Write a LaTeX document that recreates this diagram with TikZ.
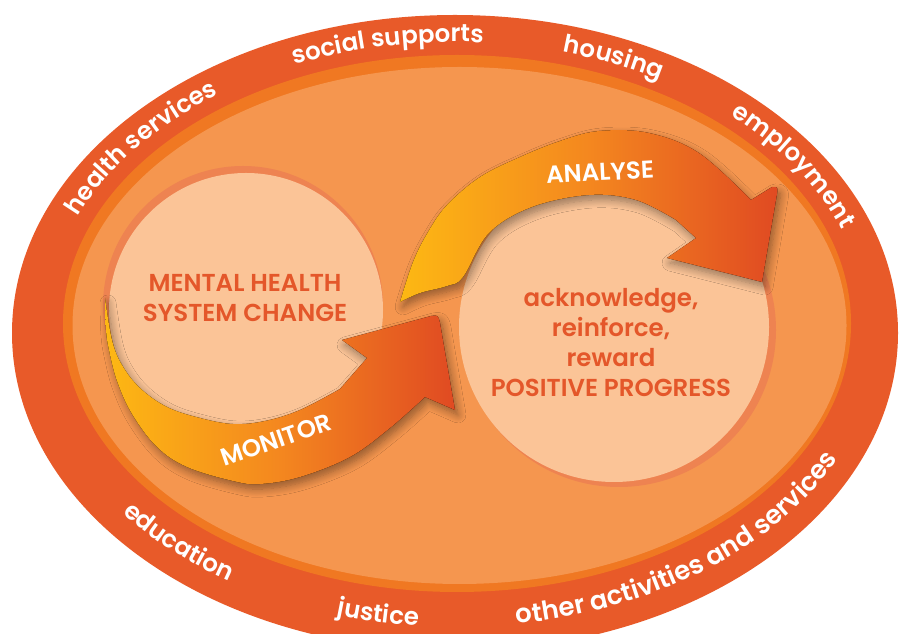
\documentclass[tikz,border=0pt]{standalone}
\usepackage{fontspec}
\IfFontExistsTF{Poppins SemiBold}{\setmainfont{Poppins}[BoldFont={Poppins SemiBold}]}{\setmainfont{Poppins}}
\usetikzlibrary{decorations.text,shadows.blur,calc}
\definecolor{banddark}{HTML}{E85A29}
\definecolor{bandstripe}{HTML}{F07822}
\definecolor{innerlight}{HTML}{F5964F}
\definecolor{peach}{HTML}{FBC497}
\definecolor{rim}{HTML}{EE8351}
\definecolor{circtext}{HTML}{E4572A}
\definecolor{arrowyellow}{HTML}{FDB813}
\definecolor{arrowmid}{HTML}{F4871F}
\definecolor{arrowred}{HTML}{E04A22}
\newcommand\bandfont{\fontsize{24.5}{24.5}\selectfont\bfseries}
\newcommand\bandfontwide{\fontsize{26}{26}\selectfont\bfseries}
\begin{document}
\begin{tikzpicture}[x=1pt,y=1pt,
  circtextstyle/.style={text=circtext, font=\fontsize{24.5}{30}\selectfont\bfseries, align=center},
  arrowtext/.style={text=white, font=\fontsize{24.5}{24.5}\selectfont\bfseries},
  arrowfill/.style={left color=arrowyellow, right color=arrowred, middle color=arrowmid,
    blur shadow={shadow xshift=3pt, shadow yshift=-5pt, shadow blur radius=8pt, shadow blur steps=10, shadow opacity=40}},
  bandtext/.style={decorate, decoration={text along path, text align=center, text color=white, text={|\bandfont|#1}}},
  bandtextwide/.style={decorate, decoration={text along path, text align=center, text color=white, text={|\bandfontwide|#1}}}]
\useasboundingbox (0,0) rectangle (899,634);
\clip (0,0) rectangle (899,634);
\fill[white] (0,0) rectangle (899,634);
% ellipses
\fill[banddark] (455,301) ellipse [x radius=443, y radius=318];
\fill[bandstripe] (457,310.5) ellipse [x radius=394, y radius=268.5];
\fill[innerlight] (459.5,308.5) ellipse [x radius=387, y radius=258.5];
% circles
\fill[rim] (243,328) circle [radius=140];
\fill[peach] (246,324) circle [radius=137];
\fill[rim] (619,304) circle [radius=157];
\fill[peach] (614,307) circle [radius=155];
\node[circtextstyle] (mhsc) at (245,336) {MENTAL HEALTH\\SYSTEM CHANGE};
\node[circtextstyle] (ack) at (611,291.5) {acknowledge,\\reinforce,\\reward\\POSITIVE PROGRESS};
% MONITOR arrow
\fill[arrowfill] plot[smooth, tension=0.6] coordinates {(105,336) (106,304) (109,284) (117,253) (132,220) (157,187) (187,167) (233,153) (260,150) (300,157) (350,177) (390,206) (425,237)}
  -- (455,224) -- (440,311) .. controls (438,319) .. (431,318) -- (342,294) -- (367,276)
  -- plot[smooth, tension=0.6] coordinates {(340,245) (300,224) (265,213) (233,210) (200,216) (167,227) (140,246) (122,269) (112,294) (105,336)} -- cycle;
% ANALYSE arrow
\fill[arrowfill] plot[smooth, tension=0.6] coordinates {(400,332) (413,372) (428,402) (447,429) (480,457) (520,477) (560,493) (599,503) (649,501) (699,481) (751,434)}
  -- (772,447) .. controls (778,447) .. (777,440) -- (762,352) -- (667,376) -- (696,396)
  -- plot[smooth, tension=0.6] coordinates {(676,414) (636,434) (589,439) (532,427) (489,401) (463,357) (447,348) (420,341) (400,332)} -- cycle;
\node[arrowtext, rotate=19] (mon) at (276,194) {MONITOR};
\node[arrowtext, rotate=3] (ana) at (600,462) {ANALYSE};
% band labels
\path[bandtext={health services}] ($(456,306)+(173:411 and 286)$) arc[start angle=173, end angle=113, x radius=411, y radius=286];
\path[bandtext={social supports}] ($(456,306)+(125:411 and 286)$) arc[start angle=125, end angle=75, x radius=411, y radius=286];
\path[bandtext={housing}] ($(456,306)+(87:411 and 286)$) arc[start angle=87, end angle=47, x radius=411, y radius=286];
\path[bandtext={employment}] ($(456,306)+(60:411 and 286)$) arc[start angle=60, end angle=5, x radius=411, y radius=286];
\path[bandtext={education}] ($(456,306)+(201:425 and 299)$) arc[start angle=201, end angle=252, x radius=425, y radius=299];
\path[bandtext={justice}] ($(456,306)+(239:425 and 299)$) arc[start angle=239, end angle=279, x radius=425, y radius=299];
\path[bandtextwide={other activities and services}] ($(456,306)+(270:425 and 299)$) arc[start angle=270, end angle=345, x radius=425, y radius=299];
\end{tikzpicture}
\end{document}
